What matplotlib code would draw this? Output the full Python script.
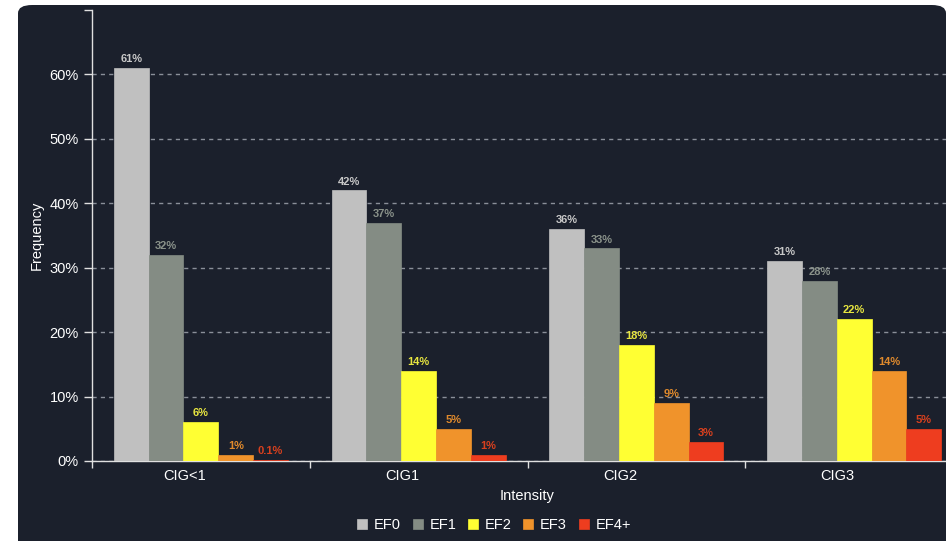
import matplotlib
matplotlib.use("agg")
import matplotlib.pyplot as plt
from matplotlib.patches import FancyBboxPatch, Rectangle
from matplotlib.ticker import FixedLocator, FuncFormatter
import numpy as np

plt.rcParams["font.family"] = ["Liberation Sans", "DejaVu Sans"]

categories = ["CIG<1", "CIG1", "CIG2", "CIG3"]
series_names = ["EF0", "EF1", "EF2", "EF3", "EF4+"]
ef0 = [61, 42, 36, 31]
ef1 = [32, 37, 33, 28]
ef2 = [6, 14, 18, 22]
ef3 = [1, 5, 9, 14]
ef4 = [0.1, 1, 3, 5]
value_labels = [
    ["61%", "42%", "36%", "31%"],
    ["32%", "37%", "33%", "28%"],
    ["6%", "14%", "18%", "22%"],
    ["1%", "5%", "9%", "14%"],
    ["0.1%", "1%", "3%", "5%"],
]
colors = ["#c0c0c0", "#848c84", "#ffff33", "#f0932b", "#ee3d1f"]
label_colors = ["#c8c8c8", "#8a928a", "#e8e640", "#e08a2c", "#d8401e"]

BG = "#1b202c"
W, H = 948, 541

fig = plt.figure(figsize=(W / 100, H / 100), dpi=100)
fig.patch.set_facecolor("white")

panel = FancyBboxPatch((18 / W, -20 / H), (946 - 18) / W, (536 + 20) / H,
                       boxstyle="round,pad=0,rounding_size=0.015",
                       transform=fig.transFigure, facecolor=BG,
                       edgecolor="none", zorder=-5)
fig.patches.append(panel)

ax = fig.add_axes([92 / W, 80 / H, (963 - 92) / W, (461 - 10) / H])
ax.set_facecolor("none")
ax.set_zorder(2)

series = [ef0, ef1, ef2, ef3, ef4]
bw = 0.16
x = np.arange(len(categories))
for i, vals in enumerate(series):
    pos = x + 0.1 + i * bw
    ax.bar(pos, vals, width=bw, align="edge", color=colors[i],
           edgecolor=colors[i], linewidth=0.5, label=series_names[i], zorder=3)
    for p, v, t in zip(pos, vals, value_labels[i]):
        ax.text(p + bw / 2, v + 0.6, t, ha="center", va="bottom",
                fontsize=8, fontweight="bold", color=label_colors[i], zorder=4)

ax.set_xlim(0, 4)
ax.set_ylim(0, 70)

for s in ["top", "right"]:
    ax.spines[s].set_visible(False)
for s in ["left", "bottom"]:
    ax.spines[s].set_color("#e0e0e0")
    ax.spines[s].set_linewidth(1)

ax.yaxis.set_major_locator(FixedLocator([0, 10, 20, 30, 40, 50, 60]))
ax.yaxis.set_major_formatter(FuncFormatter(lambda v, p: "%d%%" % v))
ax.yaxis.set_minor_locator(FixedLocator([70]))
ax.tick_params(axis="y", which="both", colors="#e0e0e0", labelcolor="white",
               labelsize=10.5, length=6, width=1)
ax.grid(axis="y", which="major", color="#8a8f99", linestyle=(0, (3, 3)),
        linewidth=1, zorder=0)

ax.set_xticks(x + 0.425)
ax.set_xticklabels(categories)
ax.set_xticks([0, 1, 2, 3], minor=True)
ax.tick_params(axis="x", which="major", length=0, labelcolor="white",
               labelsize=10.5, pad=6)
ax.tick_params(axis="x", which="minor", length=5, color="#e0e0e0", width=1)

ax.set_ylabel("Frequency", color="white", fontsize=10.5, labelpad=4)
ax.set_xlabel("Intensity", color="white", fontsize=10.5, labelpad=4)
ax.xaxis.set_label_coords((527 - 92) / (963 - 92), -28 / 451)

leg = fig.legend(loc="center", bbox_to_anchor=(494 / W, (541 - 525) / H),
                 ncol=5, frameon=False, fontsize=10.5, handlelength=0.7,
                 handleheight=0.7, handletextpad=0.45, columnspacing=0.8)
for t in leg.get_texts():
    t.set_color("white")

# white strip right of the rounded panel
fig.patches.append(Rectangle((946 / W, 0), 2 / W, 1, transform=fig.transFigure,
                             facecolor="white", edgecolor="none", zorder=10))

fig.savefig("out.png", dpi=100, facecolor=fig.get_facecolor())
